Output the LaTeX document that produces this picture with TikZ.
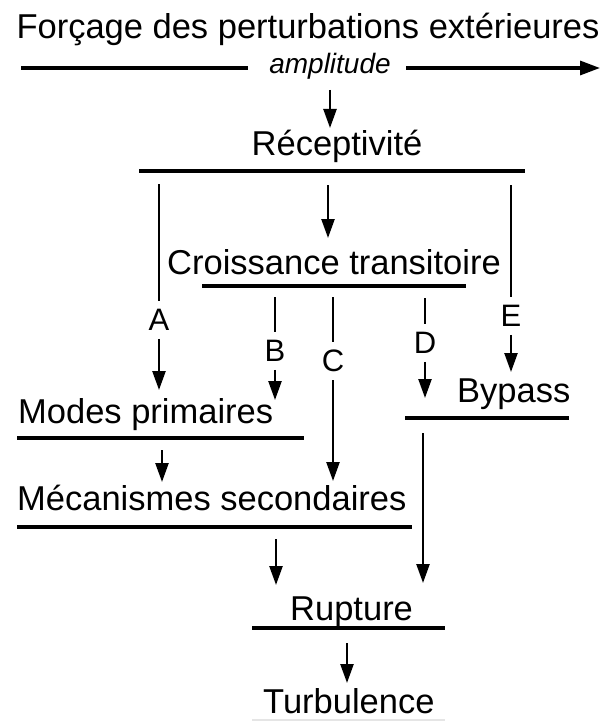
\documentclass[tikz,border=0pt]{standalone}
\usepackage{fontspec}
\setmainfont{Liberation Sans}
\usepackage{tikz}
\usetikzlibrary{arrows.meta}

\tikzset{
  lbl/.style={font=\fontsize{34.5}{40}\selectfont, inner sep=0pt, anchor=base west},
  letter/.style={font=\fontsize{31}{34}\selectfont, inner sep=8pt},
  amp/.style={font=\fontsize{28}{32}\selectfont\itshape, inner sep=0pt, anchor=base},
  stem/.style={line width=2.4pt},
  arr/.style={line width=2.4pt, -{Triangle[length=19pt,width=13pt]}},
  uline/.style={line width=3.2pt}
}

\begin{document}
\begin{tikzpicture}[x=1pt,y=-1pt]
\useasboundingbox (0,0) rectangle (605,722);

\node[lbl,anchor=base] (force) at (308,39) {Forçage des perturbations extérieures};
\node[amp] (ampl) at (330,74) {amplitude};
\coordinate (f1) at (21,68); \coordinate (f2) at (248,68); \coordinate (f3) at (406,68); \coordinate (f4) at (600,68);
\draw[uline] (f1) -- (f2); \draw[uline,-{Triangle[length=20pt,width=14pt]}] (f3) -- (f4);

\coordinate (r0) at (330,90); \coordinate (r1) at (330,128);
\draw[arr] (r0) -- (r1);
\node[lbl,anchor=base] (recep) at (337,156) {Réceptivité};
\draw[uline] (139,171) -- (525,171);

\coordinate (c0) at (328,185); \coordinate (c1) at (328,238);
\draw[arr] (c0) -- (c1);
\node[lbl] (crois) at (167,274) {Croissance transitoire};
\draw[uline] (202,286) -- (466,286);

\node[letter] (A) at (159,320) {A}; \node[letter] (B) at (275,351) {B}; \node[letter] (C) at (333,361) {C};
\node[letter] (D) at (425,343) {D}; \node[letter] (E) at (511,316) {E};

\coordinate (a0) at (159,184); \coordinate (a1) at (159,390);
\coordinate (b0) at (275,297); \coordinate (b1) at (275,400);
\coordinate (cc0) at (333,297); \coordinate (cc1) at (333,481);
\coordinate (d0) at (425,298); \coordinate (d1) at (425,398);
\coordinate (e0) at (511,185); \coordinate (e1) at (511,372);

\draw[stem] (a0) -- (A); \draw[arr] (A) -- (a1);
\draw[stem] (b0) -- (B); \draw[arr] (B) -- (b1);
\draw[stem] (cc0) -- (C); \draw[arr] (C) -- (cc1);
\draw[stem] (d0) -- (D); \draw[arr] (D) -- (d1);
\draw[stem] (e0) -- (E); \draw[arr] (E) -- (e1);

\node[lbl] (modes) at (18,423) {Modes primaires};
\draw[uline] (17,438) -- (304,438);
\node[lbl] (bypass) at (457,402) {Bypass};
\draw[uline] (405,418) -- (569,418);

\coordinate (m0) at (162,450); \coordinate (m1) at (162,482);
\draw[arr] (m0) -- (m1);
\node[lbl] (meca) at (17,510) {Mécanismes secondaires};
\draw[uline] (17,527) -- (412,527);

\coordinate (s0) at (276,539); \coordinate (s1) at (276,585);
\coordinate (p0) at (423,433); \coordinate (p1) at (423,583);
\draw[arr] (s0) -- (s1); \draw[arr] (p0) -- (p1);

\node[lbl] (rupt) at (290,620) {Rupture};
\draw[uline] (252,628) -- (445,628);

\coordinate (t0) at (347,643); \coordinate (t1) at (347,683);
\draw[arr] (t0) -- (t1);
\node[lbl] (turb) at (263,713) {Turbulence};
\draw[gray!20,line width=1.5pt] (252,720) -- (445,720);

\end{tikzpicture}
\end{document}
